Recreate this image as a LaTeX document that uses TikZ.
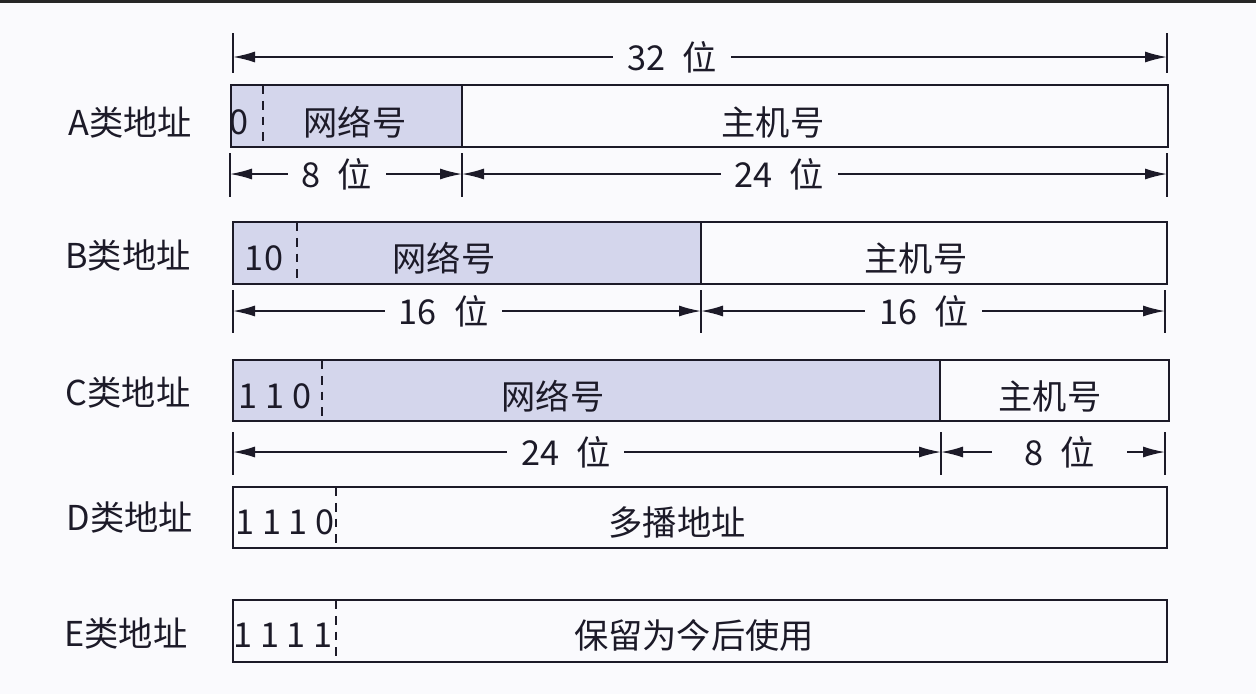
\documentclass[tikz,border=0pt]{standalone}
\usepackage{fontspec}
\setmainfont{Noto Sans CJK SC}
\usetikzlibrary{arrows.meta}
\definecolor{netfill}{RGB}{212,214,236}
\definecolor{ink}{RGB}{28,26,40}
\definecolor{pagebg}{RGB}{250,250,253}

\begin{document}
\begin{tikzpicture}[x=0.02cm,y=-0.02cm,
    every node/.style={font=\fontsize{19.5}{22}\selectfont,text=ink},
    field/.style={draw=ink,line width=1.1pt},
    split/.style={draw=ink,line width=0.8pt,dash pattern=on 5pt off 4pt},
    tick/.style={draw=ink,line width=1.1pt},
    dim/.style={{Latex[length=4.4mm,width=2.2mm]}-{Latex[length=4.4mm,width=2.2mm]},ink,line width=0.9pt},
    gap/.style={fill=pagebg,inner xsep=0.28cm,inner ysep=0pt}]
  \fill[pagebg] (0,0) rectangle (1256,694);
  \fill[black!85] (0,0) rectangle (1256,3);
  \useasboundingbox (0,0) rectangle (1256,694);

  % class names
  \node (cla) at (130,122) {A类地址};
  \node (clb) at (128,255) {B类地址};
  \node (clc) at (128,392) {C类地址};
  \node (cld) at (130,517) {D类地址};
  \node (cle) at (126,633) {E类地址};

  % total width
  \draw[tick] (233,33) -- (233,73);
  \draw[tick] (1167,33) -- (1167,73);
  \coordinate (wl) at (233,57);
  \coordinate (wr) at (1167,57);
  \draw[dim] (wl) -- node[gap,pos=0.47] (w32) {32\enspace 位} (wr);

  % class A
  \fill[netfill] (231,85) rectangle (462,147);
  \draw[field] (231,85) rectangle (1168,147);
  \draw[field] (462,85) -- (462,147);
  \draw[split] (263,85) -- (263,147);
  \node (abit) at (239,122) {0};
  \node (anet) at (355,122) {网络号};
  \node (ahost) at (773,122) {主机号};
  \draw[tick] (230,153) -- (230,197);
  \draw[tick] (462,153) -- (462,197);
  \draw[tick] (1167,153) -- (1167,197);
  \coordinate (a1) at (230,174);
  \coordinate (a2) at (462,174);
  \coordinate (a3) at (1167,174);
  \draw[dim] (a1) -- node[gap,pos=0.46] (wa8) {8\enspace 位} (a2);
  \draw[dim] (a2) -- node[gap,pos=0.45] (wa24) {24\enspace 位} (a3);

  % class B
  \fill[netfill] (233,222) rectangle (701,284);
  \draw[field] (233,222) rectangle (1167,284);
  \draw[field] (701,222) -- (701,284);
  \draw[split] (297,222) -- (297,284);
  \node (bbit) at (264,258) {10};
  \node (bnet) at (444,258) {网络号};
  \node (bhost) at (916,258) {主机号};
  \draw[tick] (233,290) -- (233,333);
  \draw[tick] (701,290) -- (701,333);
  \draw[tick] (1165,290) -- (1165,333);
  \coordinate (b1) at (233,311);
  \coordinate (b2) at (701,311);
  \coordinate (b3) at (1165,311);
  \draw[dim] (b1) -- node[gap,pos=0.45] (wb16) {16\enspace 位} (b2);
  \draw[dim] (b2) -- node[gap,pos=0.48] (wb16h) {16\enspace 位} (b3);

  % class C
  \fill[netfill] (233,360) rectangle (940,421);
  \draw[field] (233,360) rectangle (1169,421);
  \draw[field] (940,360) -- (940,421);
  \draw[split] (322,360) -- (322,421);
  \node (cbit) at (275,396) {1 1 0};
  \node (cnet) at (553,396) {网络号};
  \node (chost) at (1050,396) {主机号};
  \draw[tick] (233,432) -- (233,475);
  \draw[tick] (941,432) -- (941,475);
  \draw[tick] (1165,432) -- (1165,475);
  \coordinate (c1) at (233,452);
  \coordinate (c2) at (941,452);
  \coordinate (c3) at (1165,452);
  \draw[dim] (c1) -- node[gap,pos=0.47] (wc24) {24\enspace 位} (c2);
  \draw[dim] (c2) -- node[gap,pos=0.53,inner xsep=0.65cm] (wc8) {8\enspace 位} (c3);

  % class D
  \draw[field] (233,487) rectangle (1167,548);
  \draw[split] (336,487) -- (336,548);
  \node (dbit) at (285,522) {1 1 1 0};
  \node (dcast) at (677,522) {多播地址};

  % class E
  \draw[field] (233,600) rectangle (1167,662);
  \draw[split] (336,600) -- (336,662);
  \node (ebit) at (283,635) {1 1 1 1};
  \node (eres) at (694,635) {保留为今后使用};
\end{tikzpicture}
\end{document}
